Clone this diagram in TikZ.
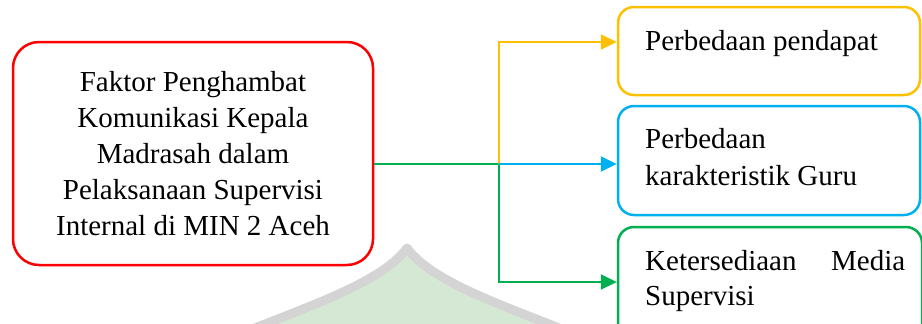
\documentclass[tikz,border=0pt]{standalone}
\usepackage{fontspec}
\setmainfont{Liberation Serif}
\usetikzlibrary{arrows.meta}

\definecolor{cred}{HTML}{FF0000}
\definecolor{cyellow}{HTML}{FFC000}
\definecolor{cblue}{HTML}{00B0F0}
\definecolor{cgreen}{HTML}{00B050}
\definecolor{wmline}{HTML}{D4D4D4}
\definecolor{wmfill}{HTML}{D5E8D4}

\begin{document}
\begin{tikzpicture}[x=1pt,y=-1pt,
  box/.style={draw, line width=2.5pt, fill=white, inner sep=0pt},
  txt/.style={inner sep=0pt, font=\fontsize{29}{36}\selectfont},
  link/.style={line width=2pt, -{Triangle[length=16pt,width=15pt]}},
  plain/.style={line width=2pt}]
\useasboundingbox (0,0) rectangle (922,324);
\clip (0,0) rectangle (922,324);

% dome ornament in the background
\draw[wmline, line width=9pt, fill=wmfill, line join=round]
  (215,345) .. controls (282,314) and (378,288) .. (407,248)
  .. controls (436,288) and (532,314) .. (599,345) -- cycle;

% source box
\node[box, draw=cred, minimum width=360pt, minimum height=223pt,
      rounded corners=26pt, align=center, txt] (src) at (193,153.5)
  {Faktor Penghambat\\Komunikasi Kepala\\Madrasah dalam\\Pelaksanaan Supervisi\\Internal di MIN 2 Aceh};

% factor boxes
\node[box, draw=cyellow, minimum width=302pt, minimum height=88pt, rounded corners=16pt] (fy) at (769,51) {};
\node[box, draw=cblue, minimum width=302pt, minimum height=109pt, rounded corners=16pt] (fb) at (769,160.5) {};
\node[box, draw=cgreen, minimum width=304pt, minimum height=118pt, rounded corners=16pt] (fg) at (770,286) {};

\node[txt, anchor=base west] (ty) at (645,50) {Perbedaan pendapat};
\node[txt, anchor=base west] (tb1) at (645,148) {Perbedaan};
\node[txt, anchor=base west] (tb2) at (645,185) {karakteristik Guru};
\node[txt, anchor=base west] (tg1) at (645,270) {\makebox[260pt][s]{Ketersediaan\hfill Media}};
\node[txt, anchor=base west] (tg2) at (645,305) {Supervisi};

% connectors
\coordinate (j) at (499,164);
\draw[plain, cgreen] (src.east |- j) -- (j);
\draw[link, cgreen] (j) |- ([yshift=4pt]fg.west);
\draw[link, cyellow] (j) |- ([yshift=9pt]fy.west);
\draw[link, cblue] (j) -- ([yshift=-3.5pt]fb.west);
\end{tikzpicture}
\end{document}
